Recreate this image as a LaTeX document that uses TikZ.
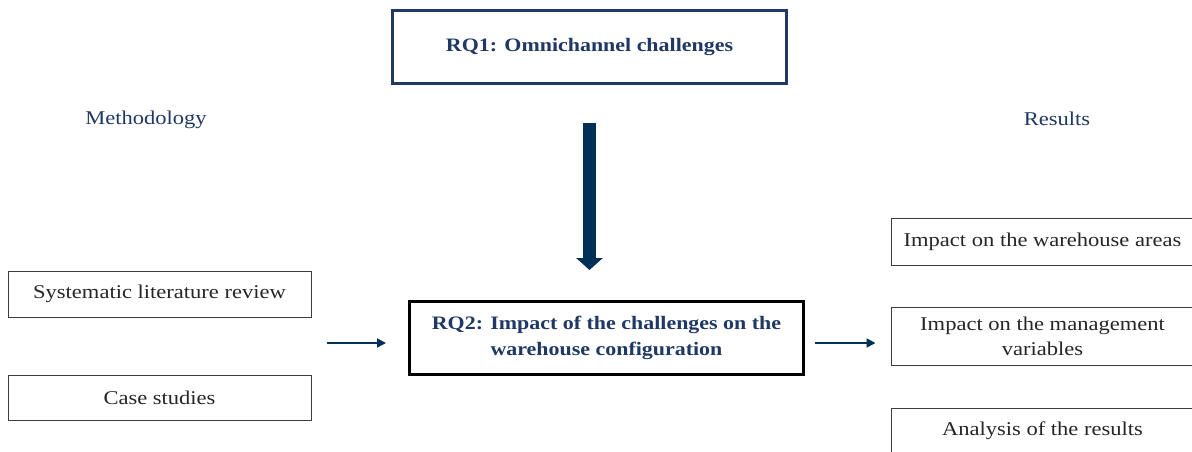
\documentclass[tikz,border=0pt]{standalone}
\usepackage{fontspec}
\setmainfont{Liberation Serif}[FakeStretch=1.155]
\usetikzlibrary{arrows.meta,calc}
\definecolor{navy}{RGB}{31,56,100}
\definecolor{deepnavy}{RGB}{0,48,87}
\definecolor{boxline}{RGB}{60,60,60}
\tikzset{
  rqbox/.style={draw=#1, line width=3pt, minimum width=394pt, minimum height=73pt,
    align=center, text=navy, font=\fontsize{19}{26}\selectfont\bfseries, inner sep=0pt},
  plainbox/.style={draw=boxline, line width=1pt, align=center, inner sep=0pt,
    font=\fontsize{19.5}{25}\selectfont, text=black!85},
  heading/.style={text=navy, font=\fontsize{19.5}{21}\selectfont, inner sep=0pt},
  thinarrow/.style={draw=deepnavy, line width=1.8pt, -{Triangle[length=9pt,width=9pt]}},
  bigarrow/.style={draw=deepnavy, line width=13pt, -{Triangle[length=12pt,width=26pt]}}
}
\begin{document}
\begin{tikzpicture}[x=1pt,y=-1pt]
  \clip (0,0) rectangle (1192,452);
  \fill[white] (0,0) rectangle (1192,452);

  % research questions
  \node[rqbox=navy] (rq1) at (589.5,47) {RQ1: Omnichannel challenges};
  \node[rqbox=black] (rq2) at (606.5,338) {RQ2: Impact of the challenges on the\\warehouse configuration};

  % column headings
  \node[heading] (meth) at (146,120) {Methodology};
  \node[heading] (res) at (1057,119) {Results};

  % methodology boxes
  \node[plainbox, minimum width=303pt, minimum height=46pt] (slr) at (159.5,294) {Systematic literature review};
  \node[plainbox, minimum width=303pt, minimum height=45pt] (cs) at (159.5,397.5) {Case studies};

  % result boxes
  \node[plainbox, minimum width=303pt, minimum height=47pt] (areas) at (1042.5,241.5) {Impact on the warehouse areas};
  \node[plainbox, minimum width=303pt, minimum height=58pt] (mgmt) at (1042.5,336) {Impact on the management\\variables};
  \node[plainbox, minimum width=303pt, minimum height=46pt] (anal) at (1042.5,431) {Analysis of the results};

  % connectors
  \coordinate (methout) at ($(slr.east)!0.5!(cs.east)$);
  \coordinate (resin) at (mgmt.west |- 0,343);
  \draw[bigarrow, shorten <=38pt, shorten >=30pt] (rq1.south) -- (rq1.south |- rq2.north);
  \draw[thinarrow, shorten <=15pt, shorten >=22pt] (methout |- 0,343) -- (rq2.west |- 0,343);
  \draw[thinarrow, shorten <=10pt, shorten >=15pt] (rq2.east |- 0,343) -- (resin);
\end{tikzpicture}
\end{document}
